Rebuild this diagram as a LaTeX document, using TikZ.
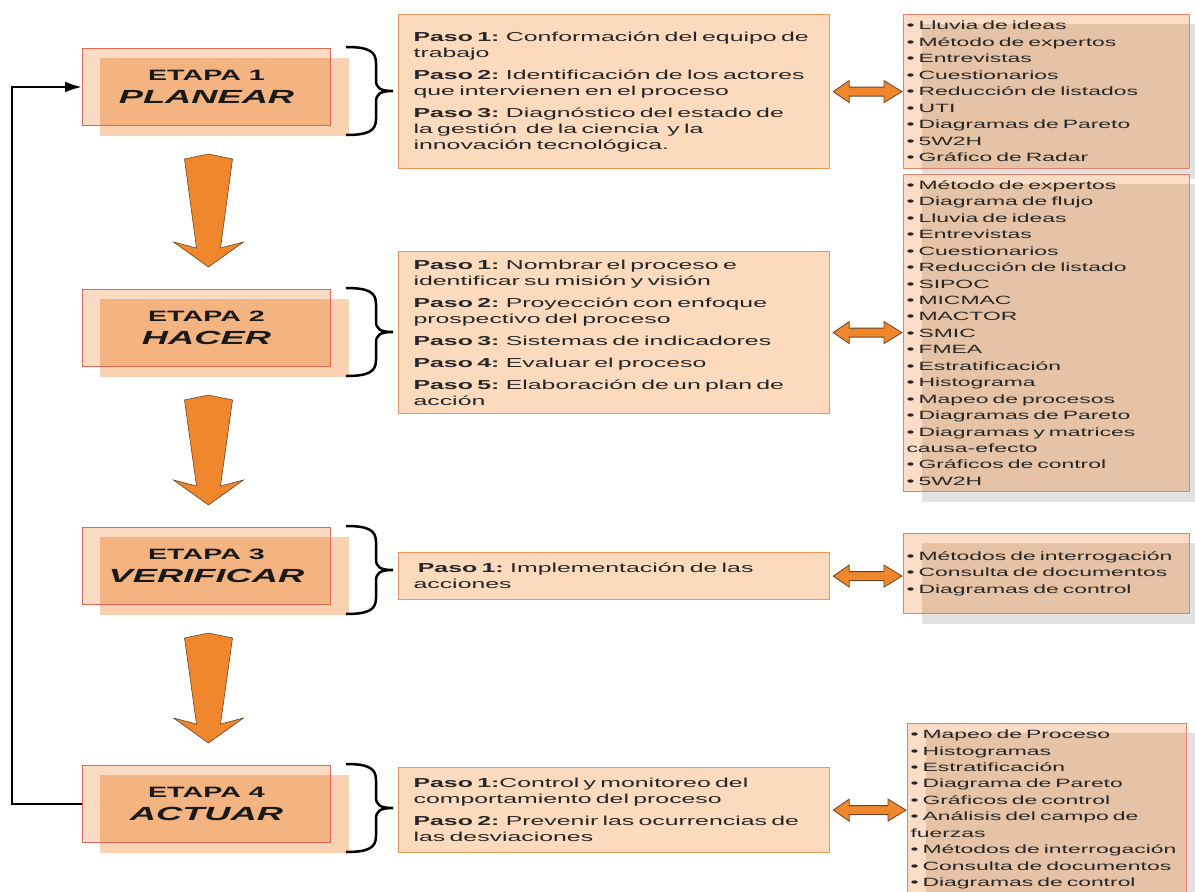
\documentclass[tikz,border=0pt]{standalone}
\usepackage{fontspec}
\setmainfont{Liberation Sans}[FakeStretch=1.91]
\usetikzlibrary{shapes,arrows}
\usetikzlibrary{arrows.meta,backgrounds,calc}

\definecolor{stagerim}{RGB}{222,104,86}
\definecolor{stageout}{RGB}{252,219,197}
\definecolor{stagein}{RGB}{250,210,178}
\definecolor{stagemix}{RGB}{243,180,130}
\definecolor{steprim}{RGB}{240,150,84}
\definecolor{stepfill}{RGB}{251,218,190}
\definecolor{toolrim}{RGB}{228,128,108}
\definecolor{toolfill}{RGB}{251,221,199}
\definecolor{toolmix}{RGB}{230,195,166}
\definecolor{toolshade}{RGB}{226,226,226}
\definecolor{arrowfill}{RGB}{240,135,44}
\definecolor{arrowrim}{RGB}{100,70,40}

\newcommand{\paso}[1]{\textbf{Paso #1:}}
% big orange arrow between two stages
\newcommand{\bigdown}[2]{\filldraw[bigarrow] let \p1=(#1.south), \p2=(#2.north) in
  (\x1+2pt,\y1-28pt) -- (\x1+26pt,\y1-33pt) -- (\x1+14pt,\y2+41pt) -- (\x1+37pt,\y2+47pt)
  -- (\x1+2pt,\y2+22pt) -- (\x1-33pt,\y2+47pt) -- (\x1-10pt,\y2+41pt) -- (\x1-22pt,\y1-33pt) -- cycle;}
% double headed arrow between steps and tools
\newcommand{\twoway}[2]{\filldraw[twoway] let \p1=(#1.east), \p2=(#2.west) in
  (\x1+3pt,\y1) -- (\x1+19pt,\y1+11pt) -- (\x1+19pt,\y1+4.5pt) -- (\x2-19pt,\y1+4.5pt)
  -- (\x2-19pt,\y1+11pt) -- (\x2-1pt,\y1) -- (\x2-19pt,\y1-11pt) -- (\x2-19pt,\y1-4.5pt)
  -- (\x1+19pt,\y1-4.5pt) -- (\x1+19pt,\y1-11pt) -- cycle;}
% curly bracket right of a stage
\newcommand{\curly}[1]{\draw[curly, shift={(#1.north east)}] (15,-1) .. controls (37,-1) and (45,3) .. (45,15)
  -- (45,32) .. controls (45,40) and (49,43) .. (62,43) .. controls (49,43) and (45,46) .. (45,54)
  -- (45,71) .. controls (45,83) and (37,87) .. (15,87);}

\begin{document}
\begin{tikzpicture}[x=1pt, y=-1pt, auto]
\tikzstyle{stage} = [rectangle, draw=stagerim, line width=1pt, anchor=north west,
    minimum width=248pt, minimum height=77pt, align=center, text=black!90,
    font=\fontsize{15}{23}\selectfont\bfseries]
\tikzstyle{steps} = [rectangle, draw=steprim, fill=stepfill, line width=1.2pt, anchor=north west,
    text width=401pt, inner xsep=15pt, align=left, text=black!85,
    font=\fontsize{13}{16}\selectfont]
\tikzstyle{tools} = [rectangle, draw=toolrim, line width=1pt, anchor=north west,
    text width=280pt, inner xsep=3pt, align=left, text=black!85,
    font=\fontsize{12}{16.45}\selectfont]
\tikzstyle{bigarrow} = [fill=arrowfill, draw=arrowrim, line width=0.6pt, line join=miter]
\tikzstyle{twoway} = [fill=arrowfill, draw=arrowrim, line width=0.8pt]
\tikzstyle{curly} = [draw, line width=2.5pt]
\tikzstyle{back} = [draw, line width=2.5pt, -{Latex[length=17pt,width=11pt]}]

    \useasboundingbox (0,0) rectangle (1195,892);
    % Place nodes
    \foreach \i/\y/\name in {1/48/PLANEAR, 2/289/HACER, 3/527/VERIFICAR, 4/765/ACTUAR}
        \node[stage] (s\i) at (82,\y) {ETAPA \i\\{\fontsize{19}{23}\selectfont\itshape \name}};

    \node[steps, minimum height=154pt] (p1) at (398,14) {\paso{1} Conformación del equipo de\\trabajo\\[6pt]
        \paso{2} Identificación de los actores\\que intervienen en el proceso\\[6pt]
        \paso{3} Diagnóstico del estado de\\la gestión\ \ de la ciencia\ \ y la\\innovación tecnológica.};
    \node[steps, minimum height=162pt] (p2) at (398,251) {\paso{1} Nombrar el proceso e\\identificar su misión y visión\\[6pt]
        \paso{2} Proyección con enfoque\\prospectivo del proceso\\[6pt]
        \paso{3} Sistemas de indicadores\\[6pt]
        \paso{4} Evaluar el proceso\\[6pt]
        \paso{5} Elaboración de un plan de\\acción};
    \node[steps, minimum height=47pt] (p3) at (398,552) {\ \paso{1} Implementación de las\\acciones};
    \node[steps, minimum height=85pt] (p4) at (398,767) {\paso{1}Control y monitoreo del\\comportamiento del proceso\\[6pt]
        \paso{2} Prevenir las ocurrencias de\\las desviaciones};

    \node[tools, minimum height=154pt] (t1) at (903,14) {• Lluvia de ideas\\• Método de expertos\\• Entrevistas\\
        • Cuestionarios\\• Reducción de listados\\• UTI\\• Diagramas de Pareto\\• 5W2H\\• Gráfico de Radar};
    \node[tools, minimum height=317pt] (t2) at (903,174) {• Método de expertos\\• Diagrama de flujo\\• Lluvia de ideas\\
        • Entrevistas\\• Cuestionarios\\• Reducción de listado\\• SIPOC\\• MICMAC\\• MACTOR\\• SMIC\\• FMEA\\
        • Estratificación\\• Histograma\\• Mapeo de procesos\\• Diagramas de Pareto\\• Diagramas y matrices\\
        causa-efecto\\• Gráficos de control\\• 5W2H};
    \node[tools, minimum height=80pt] (t3) at (903,533) {• Métodos de interrogación\\• Consulta de documentos\\
        • Diagramas de control};
    \node[tools, minimum height=172pt, text width=273pt] (t4) at (907,723) {• Mapeo de Proceso\\• Histogramas\\
        • Estratificación\\• Diagrama de Pareto\\• Gráficos de control\\• Análisis del campo de\\fuerzas\\
        • Métodos de interrogación\\• Consulta de documentos\\• Diagramas de control};

    % Box fills behind the texts
    \begin{scope}[on background layer]
    \foreach \i in {1,...,4} {
        \fill[stageout] (s\i.north west) rectangle (s\i.south east);
        \fill[stagein] ($(s\i.north west)+(18,10)$) rectangle ($(s\i.south east)+(18,10)$);
        \fill[stagemix] ($(s\i.north west)+(18,10)$) rectangle (s\i.south east);
        \fill[toolshade] ($(t\i.north west)+(19,10)$) rectangle ($(t\i.south east)+(19,10)$);
        \fill[toolfill] (t\i.north west) rectangle (t\i.south east);
        \fill[toolmix] ($(t\i.north west)+(19,10)$) rectangle (t\i.south east);
    }
    \end{scope}

    % Draw edges
    \foreach \i in {1,...,4} {
        \curly{s\i}
        \twoway{p\i}{t\i}
    }
    \bigdown{s1}{s2}
    \bigdown{s2}{s3}
    \bigdown{s3}{s4}
    \path[back] (s4.west) -- ++(-70,0) |- (s1.west);
\end{tikzpicture}
\end{document}
